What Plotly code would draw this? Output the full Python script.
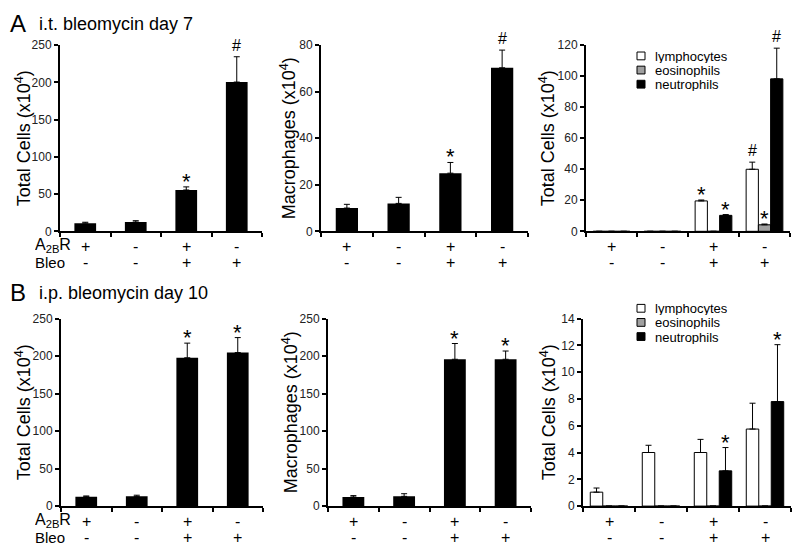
import plotly.graph_objects as go

# ---------------- data ----------------
a2br_signs = ["+", "-", "+", "-"]
bleo_signs = ["-", "-", "+", "+"]
groups = [0, 1, 2, 3]

# Panel A: i.t. bleomycin day 7
a_total = [11, 12.5, 55.5, 200.5]
a_total_err = [1.2, 1.8, 4.2, 34]
a_total_sig = ["", "", "*", "#"]
a_mac = [10, 12, 25, 70.3]
a_mac_err = [1.6, 2.6, 4.6, 7.6]
a_mac_sig = ["", "", "*", "#"]
a_lym = [0, 0, 19.6, 40]
a_lym_err = [None, None, 0.6, 4.6]
a_lym_sig = ["", "", "*", "#"]
a_eos = [0, 0, 0, 4.2]
a_eos_err = [None, None, None, 0.5]
a_eos_sig = ["", "", "", "*"]
a_neu = [0, 0, 10.3, 98.3]
a_neu_err = [None, None, 0.5, 19.8]
a_neu_sig = ["", "", "*", "#"]

# Panel B: i.p. bleomycin day 10
b_total = [12.5, 13, 197.7, 204.6]
b_total_err = [1.0, 1.5, 19.5, 20]
b_total_sig = ["", "", "*", "*"]
b_mac = [12.2, 13, 195.7, 195.7]
b_mac_err = [1.8, 3.5, 21, 11]
b_mac_sig = ["", "", "*", "*"]
b_lym = [1.04, 4.0, 4.0, 5.75]
b_lym_err = [0.31, 0.54, 0.98, 1.93]
b_lym_sig = ["", "", "", ""]
b_eos = [0, 0, 0, 0]
b_eos_err = [None, None, None, None]
b_eos_sig = ["", "", "", ""]
b_neu = [0, 0, 2.63, 7.8]
b_neu_err = [None, None, 1.74, 4.25]
b_neu_sig = ["", "", "*", "*"]

cell_types = ["lymphocytes", "eosinophils", "neutrophils"]

# ---------------- layout helpers ----------------
# the page body has an 8px margin, so the figure is shrunk by that much
OFF = 8
W, H = 800 - OFF, 555 - OFF
FONT = "Liberation Sans, Arial, Helvetica, sans-serif"
def fx(p): return (p - OFF) / W
def fy(p): return 1 - (p - OFF) / H

SINGLE_W = 0.43
BARGAP = 0.28
GROUP_BAR_W = (1 - BARGAP) / 3
group_offsets = [-GROUP_BAR_W, 0, GROUP_BAR_W]
fills = ["white", "#a0a0a0", "black"]

panels = [
    dict(n=1, x=(60, 262), y=(230, 39), ymax=250, dtick=50, title="Total Cells (x10<sup>4</sup>)", tx=23),
    dict(n=2, x=(321, 528), y=(230, 39), ymax=80, dtick=20, title="Macrophages (x10<sup>4</sup>)", tx=288),
    dict(n=3, x=(586, 790), y=(230, 39), ymax=120, dtick=20, title="Total Cells (x10<sup>4</sup>)", tx=547),
    dict(n=4, x=(61, 263), y=(512, 319.5), ymax=250, dtick=50, title="Total Cells (x10<sup>4</sup>)", tx=23),
    dict(n=5, x=(328, 531), y=(512, 319.5), ymax=250, dtick=50, title="Macrophages (x10<sup>4</sup>)", tx=290),
    dict(n=6, x=(583, 791), y=(512, 319.5), ymax=14, dtick=2, title="Total Cells (x10<sup>4</sup>)", tx=548),
]

fig = go.Figure()
annotations = []
shapes = []

def err_dict(err):
    return dict(type="data", symmetric=False, array=err, arrayminus=[0] * len(err),
                color="black", thickness=1, width=3, visible=True)

def sig_annots(xref, yref, vals, errs, sigs, offset=0.0):
    for i, s in enumerate(sigs):
        if not s:
            continue
        top = vals[i] + (errs[i] or 0)
        size = 22 if s == "*" else 16
        annotations.append(dict(
            xref=xref, yref=yref, x=groups[i] + offset, y=top, text=s, showarrow=False,
            xanchor="center", yanchor="bottom", yshift=(-9 if s == "*" else 1),
            font=dict(family=FONT, size=size, color="black")))

def single_panel(n, vals, errs, sigs):
    xa, ya = ("x" if n == 1 else f"x{n}"), ("y" if n == 1 else f"y{n}")
    fig.add_trace(go.Bar(x=groups, y=vals, width=SINGLE_W, xaxis=xa, yaxis=ya,
                         marker=dict(color="black", line=dict(width=0)),
                         error_y=err_dict(errs), showlegend=False))
    sig_annots(xa, ya, vals, errs, sigs)

def group_panel(n, series, errs_list, sigs_list):
    xa, ya = ("x" if n == 1 else f"x{n}"), ("y" if n == 1 else f"y{n}")
    for k, (vals, errs, sigs) in enumerate(zip(series, errs_list, sigs_list)):
        fig.add_trace(go.Bar(x=groups, y=vals, name=cell_types[k], xaxis=xa, yaxis=ya,
                             marker=dict(color=fills[k], line=dict(color="black", width=1)),
                             error_y=err_dict(errs), showlegend=False))
        sig_annots(xa, ya, vals, errs, sigs, group_offsets[k])

single_panel(1, a_total, a_total_err, a_total_sig)
single_panel(2, a_mac, a_mac_err, a_mac_sig)
group_panel(3, [a_lym, a_eos, a_neu], [a_lym_err, a_eos_err, a_neu_err], [a_lym_sig, a_eos_sig, a_neu_sig])
single_panel(4, b_total, b_total_err, b_total_sig)
single_panel(5, b_mac, b_mac_err, b_mac_sig)
group_panel(6, [b_lym, b_eos, b_neu], [b_lym_err, b_eos_err, b_neu_err], [b_lym_sig, b_eos_sig, b_neu_sig])

layout = dict(
    width=W, height=H, margin=dict(l=0, r=0, t=0, b=0),
    paper_bgcolor="white", plot_bgcolor="white",
    barmode="group", bargap=BARGAP, bargroupgap=0,
    font=dict(family=FONT, color="black"),
    showlegend=False,
)

for p in panels:
    n = p["n"]
    xk, yk = ("xaxis" if n == 1 else f"xaxis{n}"), ("yaxis" if n == 1 else f"yaxis{n}")
    xa, ya = ("x" if n == 1 else f"x{n}"), ("y" if n == 1 else f"y{n}")
    layout[xk] = dict(domain=[fx(p["x"][0]), fx(p["x"][1])], anchor=ya, range=[-0.5, 3.5],
                      tickvals=[-0.5, 0.5, 1.5, 2.5, 3.5], showticklabels=False,
                      ticks="outside", ticklen=4, tickwidth=1.5, tickcolor="black",
                      showline=True, linewidth=2, linecolor="black",
                      showgrid=False, zeroline=False, fixedrange=True)
    layout[yk] = dict(domain=[fy(p["y"][0]), fy(p["y"][1])], anchor=xa, range=[0, p["ymax"]],
                      tick0=0, dtick=p["dtick"], ticks="outside", ticklen=4, tickwidth=1.5,
                      tickcolor="black", showline=True, linewidth=2, linecolor="black",
                      showgrid=False, zeroline=False,
                      tickfont=dict(family=FONT, size=12, color="#222"), fixedrange=True)
    annotations.append(dict(xref="paper", yref="paper", x=fx(p["tx"]),
                            y=(fy(p["y"][0]) + fy(p["y"][1])) / 2, text=p["title"],
                            textangle=-90, showarrow=False, xanchor="center", yanchor="middle",
                            font=dict(family=FONT, size=18, color="black")))
    zero = p["y"][0]
    for i in groups:
        annotations.append(dict(xref=xa, yref="paper", x=i, y=fy(zero + 15), text=a2br_signs[i],
                                showarrow=False, xanchor="center", yanchor="middle", height=16,
                                font=dict(family=FONT, size=16, color="black")))
        annotations.append(dict(xref=xa, yref="paper", x=i, y=fy(zero + 32), text=bleo_signs[i],
                                showarrow=False, xanchor="center", yanchor="middle", height=16,
                                font=dict(family=FONT, size=16, color="black")))

for zero in (230, 512):
    annotations.append(dict(xref="paper", yref="paper", x=fx(33), y=fy(zero + 15),
                            text="A<sub>2B</sub>R", showarrow=False, xanchor="left", yanchor="middle",
                            height=17, font=dict(family=FONT, size=16, color="black")))
    annotations.append(dict(xref="paper", yref="paper", x=fx(33), y=fy(zero + 32),
                            text="Bleo", showarrow=False, xanchor="left", yanchor="middle",
                            height=15, font=dict(family=FONT, size=15, color="black")))

for letter, title, cy in (("A", "i.t. bleomycin day 7", 17), ("B", "i.p. bleomycin day 10", 293)):
    annotations.append(dict(xref="paper", yref="paper", x=fx(8), y=fy(cy), text=letter,
                            showarrow=False, xanchor="left", yanchor="middle",
                            font=dict(family=FONT, size=24, color="black")))
    annotations.append(dict(xref="paper", yref="paper", x=fx(37), y=fy(cy), text=title,
                            showarrow=False, xanchor="left", yanchor="middle",
                            font=dict(family=FONT, size=18, color="black")))

for rows in ((50, 64.5, 79), (309, 323.5, 338)):
    for k, cy in enumerate(rows):
        shapes.append(dict(type="rect", xref="paper", yref="paper",
                           x0=fx(637), x1=fx(645), y0=fy(cy + 4), y1=fy(cy - 4),
                           fillcolor=fills[k], line=dict(color="black", width=1)))
        annotations.append(dict(xref="paper", yref="paper", x=fx(653), y=fy(cy), text=cell_types[k],
                                showarrow=False, xanchor="left", yanchor="middle", height=14,
                                font=dict(family=FONT, size=13, color="black")))

layout["annotations"] = annotations
layout["shapes"] = shapes
fig.update_layout(**layout)
fig.write_html("out.html")
